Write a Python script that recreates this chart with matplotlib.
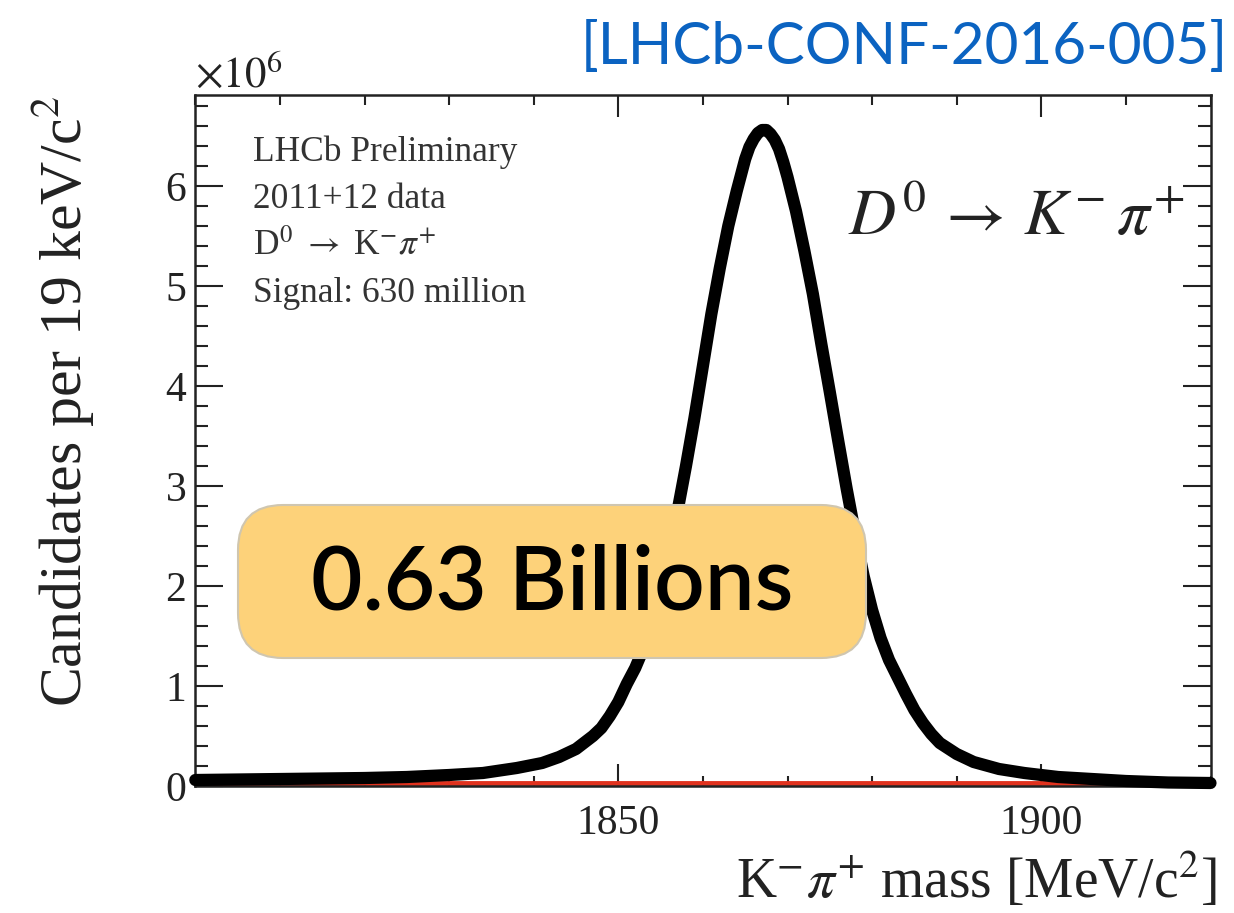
import matplotlib
matplotlib.use("Agg")
import matplotlib.pyplot as plt
from matplotlib.patches import FancyBboxPatch
from matplotlib.ticker import MultipleLocator

# K- pi+ invariant mass spectrum (candidates in units of 10^6 per bin)
mass = [1800, 1805, 1810, 1815, 1820, 1825, 1830, 1834, 1838, 1841, 1843,
        1845, 1847, 1848, 1849, 1850, 1851, 1852, 1853, 1854, 1855, 1856,
        1857, 1858, 1859, 1860, 1861, 1862, 1863, 1864, 1865, 1865.5, 1866,
        1866.5, 1867, 1867.5, 1868, 1868.5, 1869, 1869.5, 1870, 1871, 1872,
        1873, 1874, 1875, 1876, 1877, 1878, 1879, 1880, 1881, 1882, 1883,
        1884, 1885, 1886, 1887, 1888, 1890, 1892, 1895, 1898, 1902, 1906,
        1910, 1915, 1920]
candidates = [0.06, 0.065, 0.07, 0.075, 0.08, 0.09, 0.11, 0.13, 0.18, 0.23, 0.29,
              0.37, 0.50, 0.58, 0.70, 0.84, 1.02, 1.18, 1.38, 1.64, 1.94, 2.34,
              2.75, 3.20, 3.68, 4.20, 4.72, 5.18, 5.60, 5.95, 6.27, 6.39, 6.47,
              6.53, 6.56, 6.56, 6.52, 6.46, 6.37, 6.24, 6.09, 5.75, 5.35,
              4.92, 4.42, 3.94, 3.45, 2.97, 2.52, 2.10, 1.76, 1.48, 1.26, 1.09,
              0.92, 0.76, 0.63, 0.52, 0.43, 0.32, 0.24, 0.17, 0.13, 0.09, 0.07,
              0.05, 0.035, 0.03]

# background component of the fit
bkg_mass = [1800, 1920]
bkg_candidates = [0.035, 0.035]

x_ticks = [1850, 1900]
y_ticks = [0, 1, 2, 3, 4, 5, 6]

plt.rcParams["font.family"] = ["Liberation Serif", "DejaVu Serif"]
plt.rcParams["mathtext.fontset"] = "stix"

W, H = 1234, 913
fig = plt.figure(figsize=(W / 100, H / 100), dpi=100)
ax = fig.add_axes([195.3 / W, 1 - 786 / H, (1210.5 - 195.3) / W, (786 - 95) / H])

ax.plot(bkg_mass, bkg_candidates, color="#e0321e", lw=3.5, zorder=2)
ax.plot(mass, candidates, color="black", lw=8.8, solid_joinstyle="round",
        solid_capstyle="round", zorder=3, clip_on=False)

ax.set_xlim(1800, 1920)
ax.set_ylim(0, 6.91)
ax.set_xticks(x_ticks)
ax.set_yticks(y_ticks)
ax.xaxis.set_minor_locator(MultipleLocator(10))
ax.yaxis.set_minor_locator(MultipleLocator(0.2))
ax.tick_params(which="both", direction="in", top=True, right=True, width=1.5,
               colors="#222222", labelcolor="#222222")
ax.tick_params(axis="x", which="major", length=15.8, pad=13.5, labelsize=30)
ax.tick_params(axis="x", which="minor", length=7.2)
ax.tick_params(axis="y", which="major", length=20, pad=6.5, labelsize=30)
ax.tick_params(axis="y", which="minor", length=9.4)
for sp in ax.spines.values():
    sp.set_linewidth(1.8)
    sp.set_color("#222222")

ax.set_ylabel(r"Candidates per 19 keV/c$^{2}$", fontsize=43, color="#222222",
              ha="right", va="center")
ax.yaxis.set_label_coords(-0.131, 1.0)
ax.set_xlabel(r"K$^{\mathrm{-}}\pi^{+}$ mass [MeV/c$^{2}$]", fontsize=40,
              color="#222222", ha="right", va="center")
ax.xaxis.set_label_coords(1.006, -0.136)

# overlay in pixel coordinates for annotations
ov = fig.add_axes([0, 0, 1, 1], zorder=5)
ov.set_xlim(0, W)
ov.set_ylim(H, 0)
ov.axis("off")

ov.text(195, 88, r"$\times10^{6}$", fontsize=31, color="#222222", va="baseline")

info = ["LHCb Preliminary", "2011+12 data",
        r"D$^{0}$ $\rightarrow$ K$^{-}\pi^{+}$", "Signal: 630 million"]
for i, line in enumerate(info):
    ov.text(253, 161 + 47 * i, line, fontsize=25.5, color="#333333", va="baseline")

ov.text(848, 235, r"$D^{0}\,\rightarrow\,K^{-}\,\pi^{+}$", fontsize=47,
        color="#222222", va="baseline")

ov.text(1228, 48, "[LHCb-CONF-2016-005]", fontsize=42, color="#0b63c1",
        family="Lato", ha="right", va="center")

box = FancyBboxPatch((238, 505), 866 - 238, 658 - 505,
                     boxstyle="round,pad=0,rounding_size=45",
                     facecolor="#fdd27a", edgecolor="#cfc6b0", lw=1.5)
ov.add_patch(box)
ov.text(552, 584, "0.63 Billions", fontsize=64, family="Lato", weight="semibold",
        color="black", ha="center", va="center")

fig.savefig("out.png", dpi=100)
